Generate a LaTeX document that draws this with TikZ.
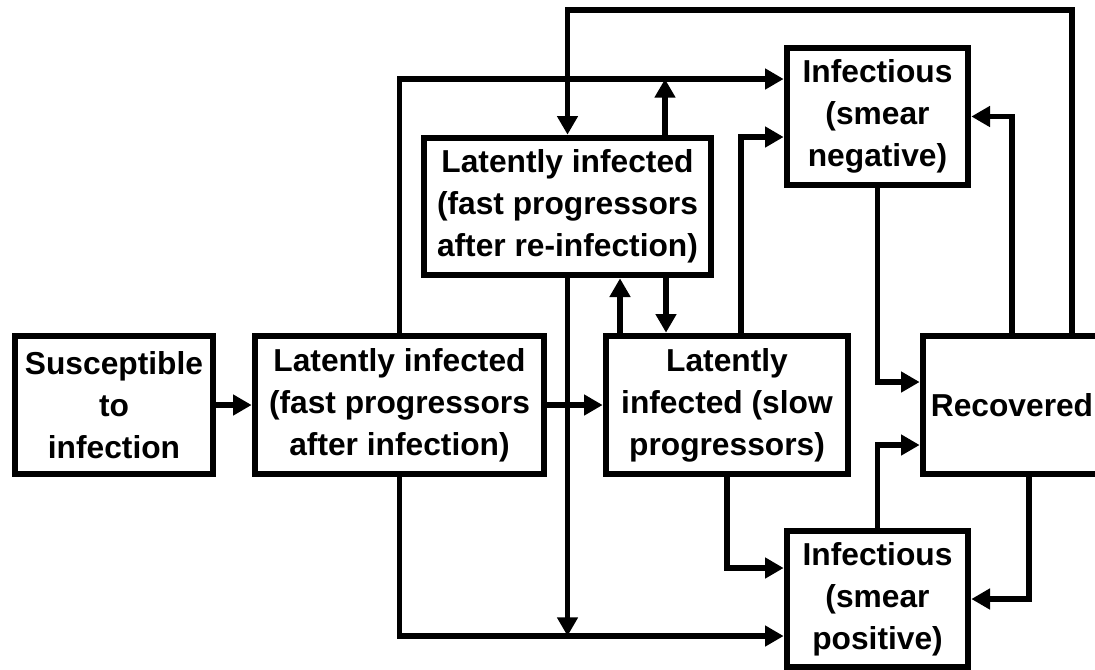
\documentclass[tikz,border=0pt]{standalone}
\usepackage{fontspec}
\setmainfont{Liberation Sans}
\usepackage{tikz}
\usetikzlibrary{arrows.meta}
\newcommand{\boxfont}{\fontsize{23.8pt}{31.5pt}\selectfont\bfseries}
\tikzstyle{compnode} = [draw, rectangle, line width=5pt, align=center, inner sep=0pt, font=\boxfont]
\tikzstyle{flow} = [line width=4.3pt, -{Triangle[length=14pt,width=15pt]}]

\begin{document}
\begin{tikzpicture}[x=0.75pt, y=-0.75pt]
  \useasboundingbox (0,0) rectangle (1095,669);
  \clip (0,0) rectangle (1095,669);

  \node[compnode, minimum width=148.5pt, minimum height=103.5pt] (sus) at (114,405) {Susceptible\\to\\infection};
  \node[compnode, minimum width=216.75pt, minimum height=103.5pt] (fast) at (399.5,405) {Latently infected\\(fast progressors\\after infection)};
  \node[compnode, minimum width=181.5pt, minimum height=103.5pt] (slow) at (727,405) {Latently\\infected (slow\\progressors)};
  \node[compnode, minimum width=133.5pt, minimum height=103.5pt] (rec) at (1012,405) {Recovered};
  \node[compnode, minimum width=215.25pt, minimum height=102.75pt] (reinf) at (567.5,206.5) {Latently infected\\(fast progressors\\after re-infection)};
  \node[compnode, minimum width=135.75pt, minimum height=102.75pt] (neg) at (877.5,116.5) {Infectious\\(smear\\negative)};
  \node[compnode, minimum width=135.75pt, minimum height=102pt] (pos) at (877.5,599) {Infectious\\(smear\\positive)};

  \coordinate (toprail) at (567,10);
  \coordinate (uprail) at (665,79);
  \coordinate (lowrail) at (568,636);

  \draw[flow] (sus) -- (fast);
  \draw[flow] (fast) -- (slow);
  \draw[flow] (fast.north) |- (neg.west |- uprail);
  \draw[flow] (reinf.north -| uprail) -- (uprail);
  \draw[flow] (rec.north -| 1072,0) |- (reinf.north |- toprail) -- (reinf.north);
  \draw[flow] (slow.north -| 741,0) |- (neg.west |- 0,137);
  \draw[flow] (slow.north -| 620,0) -- (reinf.south -| 620,0);
  \draw[flow] (reinf.south -| 666,0) -- (slow.north -| 666,0);
  \draw[flow] (reinf.south) -- (reinf.south |- lowrail);
  \draw[flow] (fast.south) |- (pos.west |- lowrail);
  \draw[flow] (slow.south) |- (pos.west |- 0,568);
  \draw[flow] (neg.south) |- (rec.west |- 0,382);
  \draw[flow] (pos.north) |- (rec.west |- 0,445);
  \draw[flow] (rec.north) |- (neg.east);
  \draw[flow] (rec.south -| 1029,0) |- (pos.east);
\end{tikzpicture}
\end{document}
